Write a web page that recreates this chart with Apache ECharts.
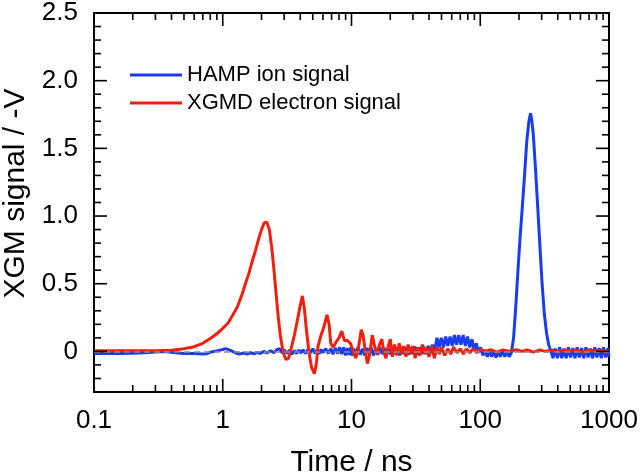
<!DOCTYPE html>
<html>
<head>
<meta charset="utf-8">
<script src="https://cdn.jsdelivr.net/npm/echarts@6/dist/echarts.min.js"></script>
<style>html,body{margin:0;padding:0;background:#fff;}#chart{width:640px;height:474px;}</style>
</head>
<body>
<div id="chart"></div>
<script>
// ---- Data ----
const hampTime = [0.1,0.13,0.16,0.2,0.25,0.3,0.35,0.4,0.45,0.5,0.6,0.7,0.75,0.8,0.9,1.0,1.05,1.15,1.25,1.35,1.45,1.55,1.65,1.75,1.85,1.95,2.1,2.2,2.35,2.5,2.65,2.75,2.9,3.0,3.15,3.3,3.45,3.6,3.75,3.9,4.05,4.2,4.4,4.6,4.8,5.0,5.2,5.4,5.6,5.8,6.0,6.3,6.6,6.9,7.2,7.5,7.8,8.1,8.4,8.7,9.0,9.3,9.6,9.9,
  10,10.4,10.8,11.2,11.7,12.2,12.7,13.2,13.7,14.2,14.8,15.4,16,16.6,17.3,18,18.7,19.5,20.3,21.1,21.9,22.8,23.7,24.6,25.6,26.6,27.7,28.8,30,31.2,32.4,33.7,35,36.4,37.9,39.4,41,42.6,44.3,46.1,47.9,49.8,51.8,53.9,56,58.3,60.6,63,65.5,68.1,70.8,73.7,76.6,79.7,82.9,86.2,89.6,93.2,96.9,100.8,104.8,109,113.4,117.9,122.6,127.5,132.6,137.9,143.4,149.2,155.2,161.4,167.8,174.5,181.5,188.8,196.3,204.2,212.3,220.8,229.6,238.8,246,252,258.3,268.6,279.4,290.6,302.2,314.3,326.8,339.9,353.5,367.6,382.3,397.6,413.5,430.1,447.3,465.2,483.8,503.1,523.2,544.2,565.9,588.6,612.1,636.6,662.1,688.6,716.1,744.8,774.5,805.5,837.8,871.3,906.1,942.4,980,1000];
const hampSignal = [-0.015,-0.015,-0.015,-0.014,-0.01,-0.004,0.0,-0.006,-0.012,-0.015,-0.016,-0.019,-0.018,-0.006,0.004,0.014,0.02,0.008,-0.01,-0.02,-0.012,-0.02,-0.01,-0.018,-0.008,-0.015,0.0,-0.012,0.005,-0.01,0.015,0.02,-0.01,0.01,-0.015,0.01,-0.02,0.005,-0.015,0.01,-0.012,0.012,-0.015,0.015,-0.01,0.02,-0.015,0.01,-0.018,0.015,-0.01,0.02,-0.015,0.02,-0.02,0.025,-0.015,0.03,-0.02,0.03,-0.03,0.025,-0.025,0.03,
  -0.03,0.02,-0.02,0.03,-0.025,0.02,-0.03,0.025,-0.02,0.03,-0.03,0.02,-0.025,0.03,-0.02,0.025,-0.03,0.02,-0.025,0.03,-0.02,0.03,-0.03,0.025,-0.02,0.03,-0.025,0.03,-0.02,0.035,-0.025,0.03,-0.02,0.035,-0.02,0.04,-0.015,0.05,0.0,0.1,0.03,0.1,0.03,0.11,0.04,0.11,0.04,0.12,0.05,0.12,0.05,0.12,0.04,0.11,0.03,0.09,0.01,0.06,-0.01,0.03,-0.03,0.01,-0.04,0.0,-0.04,0.0,-0.045,0.0,-0.04,0.01,-0.04,0.005,-0.04,-0.01,0.1,0.33,0.6,0.85,1.07,1.3,1.55,1.7,1.76,1.7,1.6,1.35,1.07,0.78,0.5,0.28,0.14,0.05,0.0,-0.05,0.02,-0.05,0.03,-0.05,0.02,-0.05,0.03,-0.045,0.025,-0.05,0.03,-0.045,0.025,-0.05,0.03,-0.045,0.02,-0.05,0.03,-0.045,0.025,-0.05,0.03,-0.045,0.025,-0.04];

const xgmdTime = [0.1,0.15,0.2,0.3,0.4,0.5,0.6,0.7,0.8,0.9,1.0,1.1,1.2,1.3,1.4,1.5,1.6,1.7,1.8,1.9,2.0,2.1,2.2,2.3,2.4,2.5,2.6,2.7,2.8,2.9,3.0,3.1,3.25,3.4,3.6,3.8,4.0,4.15,4.3,4.5,4.7,4.9,5.15,5.35,5.5,5.8,6.1,6.45,6.7,6.9,7.2,7.6,8.0,8.4,8.8,9.3,9.8,10.3,10.8,11.3,11.9,12.3,12.8,13.3,13.8,14.5,15.1,15.8,16.5,17.2,17.9,18.5,19.2,20,20.8,21.6,22.5,23.5,24.5,25.5,26.5,27.5,28.7,30,31.2,32.5,34,35.5,37,38.5,40,42,44,46,48,50,53,56,59,62,66,70,74,78,83,88,94,100,110,120,135,150,170,190,210,230,260,290,320,360,400,450,500,560,630,700,780,870,950,1000];
const xgmdSignal = [0.005,0.005,0.004,0.005,0.008,0.02,0.035,0.06,0.095,0.13,0.17,0.21,0.27,0.33,0.41,0.5,0.58,0.67,0.75,0.83,0.9,0.95,0.955,0.9,0.77,0.6,0.42,0.25,0.12,0.03,-0.03,-0.06,-0.05,0.02,0.12,0.23,0.34,0.41,0.32,0.13,-0.02,-0.12,-0.165,-0.08,0.04,0.12,0.18,0.27,0.2,0.06,0.03,0.07,0.1,0.15,0.08,0.08,0.06,0.0,-0.05,0.02,0.16,0.12,0.0,-0.09,-0.03,0.12,0.04,-0.02,0.05,0.09,-0.01,-0.05,0.03,0.09,-0.04,0.05,-0.03,0.06,-0.02,0.04,-0.04,0.05,-0.02,0.04,-0.05,0.03,-0.03,0.05,-0.02,0.03,-0.04,0.04,-0.05,0.03,-0.02,0.03,-0.03,0.02,-0.02,0.03,-0.01,0.02,-0.02,0.02,-0.01,0.02,-0.01,0.015,0.0,0.012,-0.005,0.01,0.0,0.012,0.0,0.01,-0.005,0.01,0.0,0.01,-0.005,0.01,0.0,0.01,-0.005,0.01,0.0,0.01,-0.005,0.005];

const seriesNames = ['HAMP ion signal', 'XGMD electron signal'];
const xTickLabels = [0.1, 1, 10, 100, 1000];
const xMinorTicks = [0.2,0.3,0.4,0.5,0.6,0.7,0.8,0.9,2,3,4,5,6,7,8,9,20,30,40,50,60,70,80,90,200,300,400,500,600,700,800,900];
const yTickLabels = [0, 0.5, 1.0, 1.5, 2.0, 2.5];
const yMinorTicks = [-0.3,-0.2,-0.1,0.1,0.2,0.3,0.4,0.6,0.7,0.8,0.9,1.1,1.2,1.3,1.4,1.6,1.7,1.8,1.9,2.1,2.2,2.3,2.4];

// ---- Build options ----
const zip = (a, b) => a.map((v, i) => [v, b[i]]);
const FONT = 'Liberation Sans, Arial, Helvetica, sans-serif';
const MAJOR = 13, MINOR = 7;

function xTickRender(params, api) {
  const cs = params.coordSys;
  const x = api.coord([api.value(0), 1])[0];
  const len = api.value(2) ? MAJOR : MINOR;
  const st = { stroke: '#000', lineWidth: 1.6 };
  return { type: 'group', children: [
    { type: 'line', shape: { x1: x, y1: cs.y + cs.height, x2: x, y2: cs.y + cs.height - len }, style: st },
    { type: 'line', shape: { x1: x, y1: cs.y, x2: x, y2: cs.y + len }, style: st }
  ]};
}
function yTickRender(params, api) {
  const cs = params.coordSys;
  const y = api.coord([1, api.value(1)])[1];
  const len = api.value(2) ? MAJOR : MINOR;
  const st = { stroke: '#000', lineWidth: 1.6 };
  return { type: 'group', children: [
    { type: 'line', shape: { x1: cs.x, y1: y, x2: cs.x + len, y2: y }, style: st },
    { type: 'line', shape: { x1: cs.x + cs.width, y1: y, x2: cs.x + cs.width - len, y2: y }, style: st }
  ]};
}

const chart = echarts.init(document.getElementById('chart'), null, { renderer: 'canvas' });
chart.setOption({
  animation: false,
  backgroundColor: '#fff',
  textStyle: { fontFamily: FONT },
  grid: { left: 94, right: 31, top: 13, bottom: 82, outerBoundsMode: 'none', containLabel: false,
    show: true, borderColor: '#000', borderWidth: 2, backgroundColor: 'transparent' },
  legend: {
    orient: 'vertical', left: 130, top: 64, padding: 0,
    data: seriesNames, icon: 'rect', itemWidth: 52, itemHeight: 3, itemGap: 6,
    textStyle: { fontSize: 22, lineHeight: 22, color: '#000', fontFamily: FONT }
  },
  xAxis: {
    type: 'log', logBase: 10, min: 0.1, max: 1000,
    name: 'Time / ns', nameLocation: 'middle', nameGap: 56,
    nameTextStyle: { fontSize: 30, color: '#000', fontFamily: FONT },
    axisLine: { show: false }, axisTick: { show: false }, splitLine: { show: false },
    axisLabel: { fontSize: 26, color: '#000', margin: 16, fontFamily: FONT,
      formatter: v => (v < 1 ? Number(v).toFixed(1) : String(Math.round(v))) }
  },
  yAxis: {
    type: 'value', min: -0.3, max: 2.5, interval: 0.1,
    name: 'XGM signal / -V', nameLocation: 'middle', nameGap: 62,
    nameTextStyle: { fontSize: 30, color: '#000', fontFamily: FONT, padding: [0, 0, 0, 18] },
    axisLine: { show: false }, axisTick: { show: false }, splitLine: { show: false },
    axisLabel: { fontSize: 26, color: '#000', margin: 16, fontFamily: FONT,
      formatter: v => {
        const r = Math.round(v * 10);
        if (r < 0 || r % 5 !== 0) return '';
        return r === 0 ? '0' : (r / 10).toFixed(1);
      } }
  },
  series: [
    { name: seriesNames[0], type: 'line', data: zip(hampTime, hampSignal), showSymbol: false, symbol: 'none',
      lineStyle: { color: '#1a3cf0', width: 3 }, itemStyle: { color: '#1a3cf0' }, z: 2 },
    { name: seriesNames[1], type: 'line', data: zip(xgmdTime, xgmdSignal), showSymbol: false, symbol: 'none',
      lineStyle: { color: '#f0200f', width: 3 }, itemStyle: { color: '#f0200f' }, z: 3,
      markLine: { silent: true, symbol: 'none', label: { show: false },
        lineStyle: { color: '#8c8c8c', type: [6, 4], width: 1.5 }, data: [{ yAxis: 0 }] } },
    { type: 'custom', silent: true, z: 10, renderItem: xTickRender, encode: { x: 0, y: 1 },
      data: xTickLabels.map(v => [v, 1, 1]).concat(xMinorTicks.map(v => [v, 1, 0])) },
    { type: 'custom', silent: true, z: 10, renderItem: yTickRender, encode: { x: 0, y: 1 },
      data: yTickLabels.map(v => [1, v, 1]).concat(yMinorTicks.map(v => [1, v, 0])) }
  ]
});
</script>
</body>
</html>
